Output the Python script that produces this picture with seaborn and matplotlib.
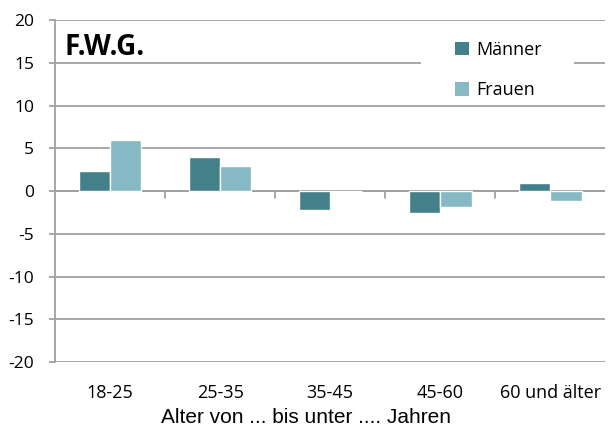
import matplotlib
matplotlib.use("Agg")
import matplotlib.pyplot as plt
import seaborn as sns
import pandas as pd
from matplotlib.patches import Patch, Rectangle

categories = ["18-25", "25-35", "35-45", "45-60", "60 und älter"]
maenner = [2.3, 4.0, -2.2, -2.5, 1.0]
frauen = [6.0, 2.9, 0.0, -1.8, -1.2]
series = ["Männer", "Frauen"]
colors = ["#44808A", "#86B9C4"]
yticks = [-20, -15, -10, -5, 0, 5, 10, 15, 20]

df = pd.DataFrame({
    "Alter": categories * 2,
    "Wert": maenner + frauen,
    "Geschlecht": [series[0]] * len(categories) + [series[1]] * len(categories),
})

sns.set_style("white")
plt.rcParams["font.family"] = ["Open Sans", "DejaVu Sans"]
plt.rcParams["text.color"] = "black"
plt.rcParams["axes.labelcolor"] = "black"
plt.rcParams["xtick.labelcolor"] = "black"
plt.rcParams["ytick.labelcolor"] = "black"

fig = plt.figure(figsize=(6.08, 4.30), dpi=100)
ax = fig.add_axes([0.0905, 0.158, 0.905, 0.795])

sns.barplot(data=df, x="Alter", y="Wert", hue="Geschlecht", palette=colors,
            width=0.57, ax=ax, legend=False, zorder=3, saturation=1)

ax.set_ylim(-20, 20)
ax.set_xlim(-0.5, len(categories) - 0.5)
ax.set_yticks(yticks)
ax.set_yticklabels([str(t) for t in yticks], fontsize=12.5)
ax.yaxis.grid(True, color="#A0A0A0", linewidth=1.3, zorder=0)
ax.tick_params(axis="y", length=4.5, color="#A0A0A0", width=1.3, left=True,
               pad=10.5, labelcolor="black")
ax.set_xticks(range(len(categories)))
ax.set_xticklabels(categories, fontsize=13)
ax.tick_params(axis="x", length=0, pad=15.5, labelcolor="black")

# zero line ticks at category boundaries
ax.axhline(0, color="#A0A0A0", linewidth=1.3, zorder=2)
for b in range(1, len(categories)):
    ax.plot([b - 0.5, b - 0.5], [0, -0.75], color="#A0A0A0", linewidth=1.3,
            zorder=2, clip_on=False)

for s in ["top", "right", "bottom"]:
    ax.spines[s].set_visible(False)
ax.spines["left"].set_color("#A0A0A0")
ax.spines["left"].set_linewidth(1.3)

ax.set_xlabel("Alter von ... bis unter .... Jahren", fontsize=15,
              family=["Liberation Sans", "DejaVu Sans"], labelpad=4.5,
              color="black")
ax.xaxis.label.set_x(0.456)
ax.set_ylabel("")

ax.text(0.018, 0.92, "F.W.G.", transform=ax.transAxes, fontsize=20,
        fontweight="bold", ha="left", va="center", zorder=5, color="black")

# white legend background box
ax.add_patch(Rectangle((0.665, 0.751), 0.279, 0.234, transform=ax.transAxes,
                       facecolor="white", edgecolor="none", zorder=4))

handles = [Patch(facecolor=c, edgecolor="none") for c in colors]
leg = ax.legend(handles, series, loc="upper left", bbox_to_anchor=(0.727, 0.94),
                frameon=False, fontsize=13, handlelength=0.75, handleheight=0.75,
                handletextpad=0.4, labelspacing=1.25, borderpad=0,
                borderaxespad=0, labelcolor="black")
leg.set_zorder(6)

fig.savefig("out.png", dpi=100)
